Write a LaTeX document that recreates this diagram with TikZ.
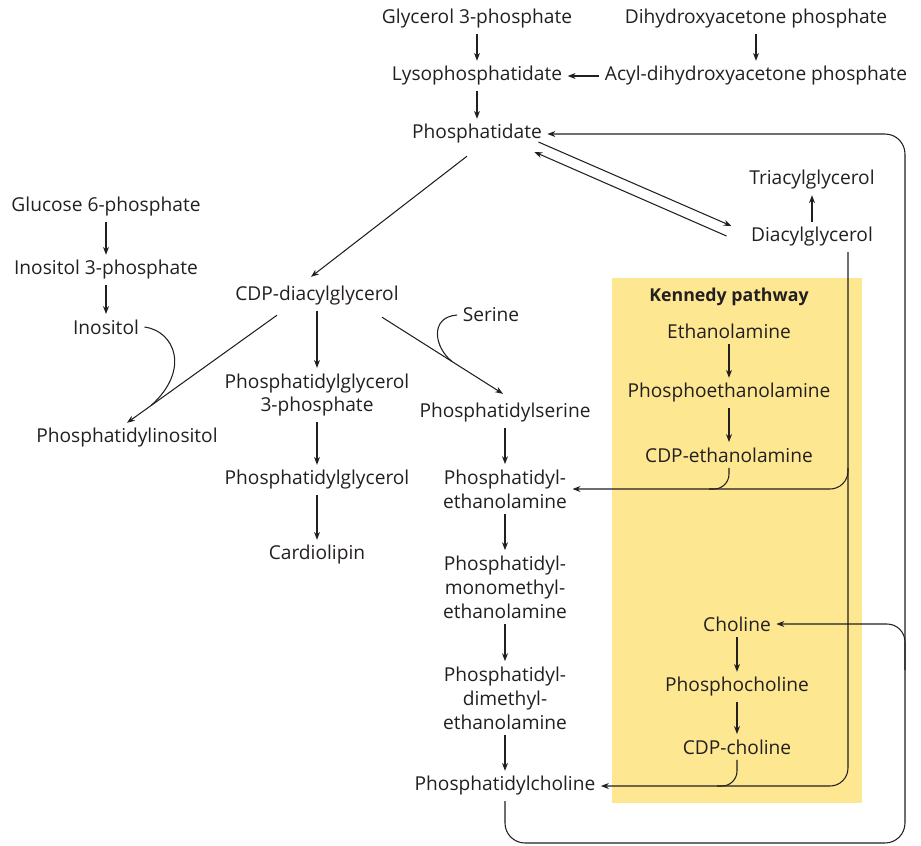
\documentclass[tikz,border=0pt]{standalone}
\usepackage{fontspec}
\setmainfont{Open Sans}
\usetikzlibrary{arrows.meta, positioning, calc}
\definecolor{kennedyyellow}{RGB}{253, 231, 145}
\definecolor{inkgray}{RGB}{35, 31, 32}

\begin{document}
\begin{tikzpicture}[
  x=0.02cm, y=-0.02cm,
  mol/.style={inner sep=3pt, align=center, text=inkgray, font=\fontsize{10.9}{13.6}\selectfont},
  title/.style={mol, font=\fontsize{10.1}{13.6}\selectfont\bfseries},
  arr/.style={draw=inkgray, line width=0.6pt, -{Stealth[length=4.5pt, width=3.4pt]}},
  link/.style={draw=inkgray, line width=0.6pt}
]
  \useasboundingbox (0,0) rectangle (921,846);
  \fill[kennedyyellow] (612,278) rectangle (862,803);

  \node[mol] (g3p) at (477,19) {Glycerol 3-phosphate};
  \node[mol] (dhap) at (756,19) {Dihydroxyacetone phosphate};
  \node[mol] (lyso) at (477,76) {Lysophosphatidate};
  \node[mol] (acyl) at (756,76) {Acyl-dihydroxyacetone phosphate};
  \node[mol] (pa) at (477,134) {Phosphatidate};
  \node[mol] (tag) at (812,180) {Triacylglycerol};
  \node[mol] (dag) at (812,237) {Diacylglycerol};

  \node[mol] (g6p) at (106,207) {Glucose 6-phosphate};
  \node[mol] (i3p) at (106,270) {Inositol 3-phosphate};
  \node[mol] (ino) at (106,327) {Inositol};
  \node[mol] (pi) at (127,438) {Phosphatidylinositol};

  \node[mol] (cdpdag) at (317,296) {CDP-diacylglycerol};
  \node[mol] (pgp) at (317,395) {Phosphatidylglycerol\\3-phosphate};
  \node[mol] (pg) at (317,480) {Phosphatidylglycerol};
  \node[mol] (cl) at (317,555) {Cardiolipin};

  \node[mol] (ser) at (491,315) {Serine};
  \node[mol] (ps) at (505,413) {Phosphatidylserine};
  \node[mol] (pe) at (505,489) {Phosphatidyl-\\ethanolamine};
  \node[mol] (pmme) at (505,587) {Phosphatidyl-\\monomethyl-\\ethanolamine};
  \node[mol] (pdme) at (505,698) {Phosphatidyl-\\dimethyl-\\ethanolamine};
  \node[mol] (pc) at (505,786) {Phosphatidylcholine};

  \node[title] (kp) at (729,297) {Kennedy pathway};
  \node[mol] (etn) at (729,331) {Ethanolamine};
  \node[mol] (petn) at (729,393) {Phosphoethanolamine};
  \node[mol] (cdpetn) at (729,455) {CDP-ethanolamine};
  \node[mol] (cho) at (737,624) {Choline};
  \node[mol] (pcho) at (737,687) {Phosphocholine};
  \node[mol] (cdpcho) at (737,747) {CDP-choline};

  \coordinate (pistart) at ($(cdpdag.south)+(-40,4)$);
  \coordinate (pijoin) at ($(pistart)!0.84!(pi.north)$);
  \coordinate (psstart) at ($(cdpdag.south)+(65,6)$);
  \coordinate (psend) at ($(ps.north)+(-2,-4)$);
  \coordinate (psjoin) at ($(psstart)!0.58!(psend)$);
  \coordinate (loopbr) at (905,843);
  \coordinate (looptr) at (905,134);
  \coordinate (chofork) at (905,670);
  \coordinate (dagrail) at (848,0);
  \coordinate (pefork) at (848,468);

  \draw[arr] (g3p) -- (lyso);
  \draw[arr] (dhap) -- (acyl);
  \draw[arr] (acyl) -- (lyso);
  \draw[arr] (lyso) -- (pa);
  \draw[arr] ($(pa.east)+(-9,8)$) -- ($(dag.west)+(-14,-11)$);
  \draw[arr] ($(dag.west)+(-19,-1)$) -- ($(pa.east)+(-13,18)$);
  \draw[arr] (dag) -- (tag);
  \draw[arr] ($(pa.south)+(-10,7)$) -- ($(cdpdag.north)+(-6,-4)$);

  \draw[arr] (g6p) -- (i3p);
  \draw[arr] (i3p) -- (ino);
  \draw[arr] (pistart) -- (pi.north);
  \draw[link] (ino.east) .. controls +(30,4) and +(40,-36) .. (pijoin);

  \draw[arr] (cdpdag) -- (pgp);
  \draw[arr] (pgp) -- (pg);
  \draw[arr] (pg) -- (cl);

  \draw[arr] (psstart) -- (psend);
  \draw[link] (ser.west) .. controls +(-28,2) and +(-18,-14) .. (psjoin);
  \draw[arr] (ps) -- (pe);
  \draw[arr] (pe) -- (pmme);
  \draw[arr] (pmme) -- (pdme);
  \draw[arr] (pdme) -- (pc);

  \draw[arr] (etn) -- (petn);
  \draw[arr] (petn) -- (cdpetn);
  \draw[arr] (cho) -- (pcho);
  \draw[arr] (pcho) -- (cdpcho);

  \draw[arr, rounded corners=0.4cm] (pc.south) |- (loopbr) -- (looptr) -- (pa.east);
  \draw[arr, rounded corners=0.36cm] (chofork) |- (cho.east);
  \draw[arr, rounded corners=0.36cm] (dag.south -| dagrail) |- (pc.east);
  \draw[arr, rounded corners=0.36cm] (pefork) |- (pe.east);
  \draw[link, rounded corners=0.3cm] (cdpetn.south) |- ($(cdpetn.south |- pe.east)+(-20,0)$);
  \draw[link, rounded corners=0.3cm] (cdpcho.south) |- ($(cdpcho.south |- pc.east)+(-20,0)$);
\end{tikzpicture}
\end{document}
